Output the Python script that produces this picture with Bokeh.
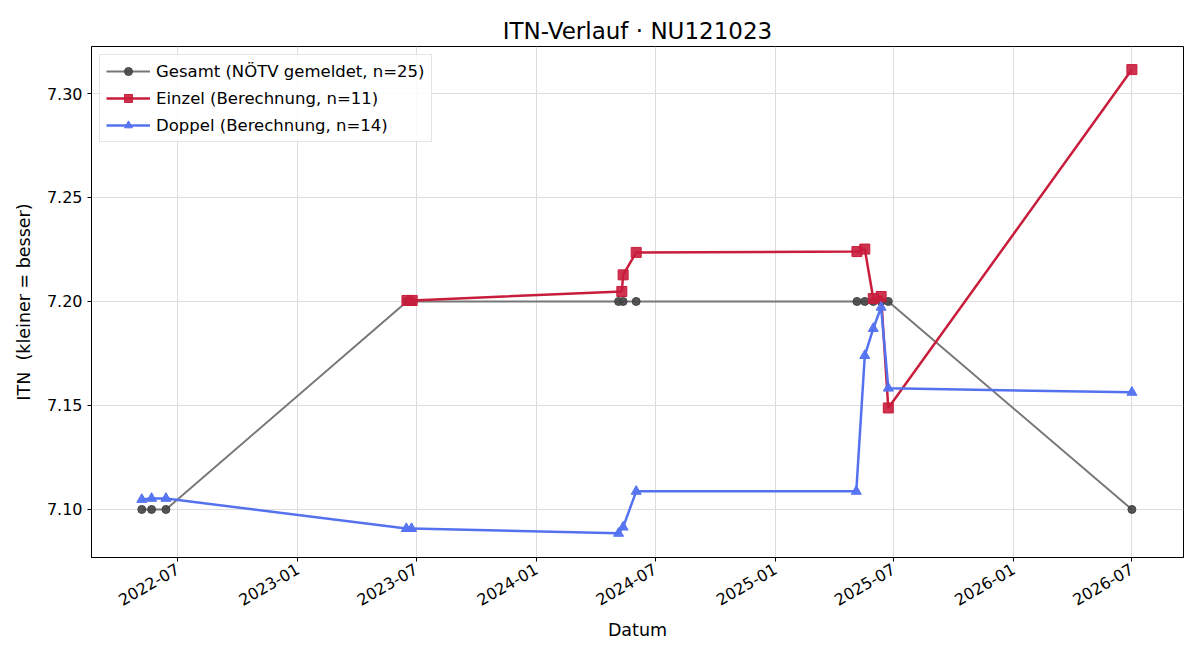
import math
import pandas as pd
from bokeh.plotting import figure
from bokeh.models import (ColumnDataSource, DatetimeTickFormatter, FixedTicker,
                          Legend, LegendItem, Range1d, NumeralTickFormatter)
from bokeh.embed import file_html
from bokeh.resources import INLINE

# ---- data ----
gesamt_dates = ["2022-05-07", "2022-05-22", "2022-06-13", "2023-06-17", "2023-06-25",
                "2024-05-06", "2024-05-13", "2024-06-02", "2025-05-06", "2025-05-18",
                "2025-05-31", "2025-06-12", "2025-06-23", "2026-07-01"]
gesamt_itn = [7.10, 7.10, 7.10, 7.20, 7.20, 7.20, 7.20, 7.20, 7.20, 7.20,
              7.20, 7.20, 7.20, 7.10]

einzel_dates = ["2023-06-17", "2023-06-25", "2024-05-11", "2024-05-13", "2024-06-02",
                "2025-05-06", "2025-05-18", "2025-05-31", "2025-06-12", "2025-06-23",
                "2026-07-01"]
einzel_itn = [7.2005, 7.2005, 7.2048, 7.2128, 7.2236, 7.2240, 7.2252, 7.2014,
              7.2024, 7.1488, 7.3115]

doppel_dates = ["2022-05-07", "2022-05-22", "2022-06-13", "2023-06-16", "2023-06-24",
                "2024-05-06", "2024-05-13", "2024-06-02", "2025-05-05", "2025-05-18",
                "2025-05-31", "2025-06-12", "2025-06-23", "2026-07-01"]
doppel_itn = [7.1048, 7.1053, 7.1053, 7.0908, 7.0908, 7.0885, 7.0915, 7.1087,
              7.1087, 7.1740, 7.1870, 7.1972, 7.1583, 7.1563]

x_tick_labels = ["2022-07", "2023-01", "2023-07", "2024-01", "2024-07",
                 "2025-01", "2025-07", "2026-01", "2026-07"]
y_ticks = [7.10, 7.15, 7.20, 7.25, 7.30]

title = "ITN-Verlauf · NU121023"
x_label = "Datum"
y_label = "ITN\u00a0\u00a0(kleiner = besser)"
labels = ["Gesamt (NÖTV gemeldet, n=25)", "Einzel (Berechnung, n=11)",
          "Doppel (Berechnung, n=14)"]

FONT = "DejaVu Sans"

def to_dt(lst):
    return pd.to_datetime(pd.Series(lst))

src_g = ColumnDataSource(dict(x=to_dt(gesamt_dates), y=gesamt_itn))
src_e = ColumnDataSource(dict(x=to_dt(einzel_dates), y=einzel_itn))
src_d = ColumnDataSource(dict(x=to_dt(doppel_dates), y=doppel_itn))

x_start = pd.Timestamp("2022-02-19")
x_end = pd.Timestamp("2026-09-18")

p = figure(width=1200, height=660, x_axis_type="datetime",
           output_backend="svg", toolbar_location=None,
           x_range=Range1d(x_start, x_end), y_range=Range1d(7.0769, 7.3226),
           min_border_left=91, min_border_right=17, min_border_top=46,
           min_border_bottom=103)

p.title.text = title
p.title.align = "center"
p.title.text_font = FONT
p.title.text_font_size = "23px"
p.title.text_font_style = "normal"
p.title.text_color = "black"
p.title.offset = 0
p.title.standoff = 6

tick_ms = [pd.Timestamp(t + "-01").value / 1e6 for t in x_tick_labels]
p.xaxis.ticker = FixedTicker(ticks=tick_ms)
fmt = "%Y-%m"
p.xaxis.formatter = DatetimeTickFormatter(milliseconds=fmt, seconds=fmt, minsec=fmt,
                                          minutes=fmt, hourmin=fmt, hours=fmt,
                                          days=fmt, months=fmt, years=fmt)
p.xaxis.major_label_orientation = math.pi / 6
p.yaxis.ticker = FixedTicker(ticks=y_ticks)
p.yaxis.formatter = NumeralTickFormatter(format="0.00")

for ax in (p.xaxis[0], p.yaxis[0]):
    ax.major_label_text_font = FONT
    ax.major_label_text_font_size = "16px"
    ax.major_label_text_color = "black"
    ax.axis_label_text_font = FONT
    ax.axis_label_text_font_size = "17.5px"
    ax.axis_label_text_font_style = "normal"
    ax.axis_label_text_color = "black"
    ax.axis_line_color = "black"
    ax.major_tick_line_color = "black"
    ax.major_tick_out = 4
    ax.major_tick_in = 0
    ax.minor_tick_line_color = None
p.xaxis.axis_label = x_label
p.yaxis.axis_label = y_label
p.xaxis.major_label_standoff = 6
p.xaxis.axis_label_standoff = 6
p.yaxis.axis_label_standoff = 10

p.outline_line_color = "black"
p.outline_line_alpha = 1
p.xgrid.grid_line_color = "#dddddd"
p.ygrid.grid_line_color = "#dddddd"

# Gesamt
lg = p.line("x", "y", source=src_g, line_color="#777777", line_width=2)
sg = p.scatter("x", "y", source=src_g, marker="circle", size=8,
               fill_color="#444444", line_color="#444444", fill_alpha=0.9)
# Einzel
le = p.line("x", "y", source=src_e, line_color="#c91d3c", line_width=2.5)
se = p.scatter("x", "y", source=src_e, marker="square", size=10,
               fill_color="#c91d3c", line_color="#c91d3c", fill_alpha=0.9)
# Doppel
ld = p.line("x", "y", source=src_d, line_color="#5472f0", line_width=2.5)
sd = p.scatter("x", "y", source=src_d, marker="triangle", size=10,
               fill_color="#5472f0", line_color="#5472f0", fill_alpha=0.95)

legend = Legend(items=[LegendItem(label=labels[0], renderers=[lg, sg]),
                       LegendItem(label=labels[1], renderers=[le, se]),
                       LegendItem(label=labels[2], renderers=[ld, sd])],
                location="top_left")
legend.label_text_font = FONT
legend.label_text_font_size = "16.5px"
legend.label_text_color = "black"
legend.label_height = 20
legend.glyph_height = 20
legend.glyph_width = 44
legend.label_standoff = 6
legend.border_line_color = "#cccccc"
legend.background_fill_alpha = 0.85
legend.spacing = 7
legend.padding = 6
legend.margin = 8
p.add_layout(legend)

open("out.html", "w").write(file_html(p, INLINE))
